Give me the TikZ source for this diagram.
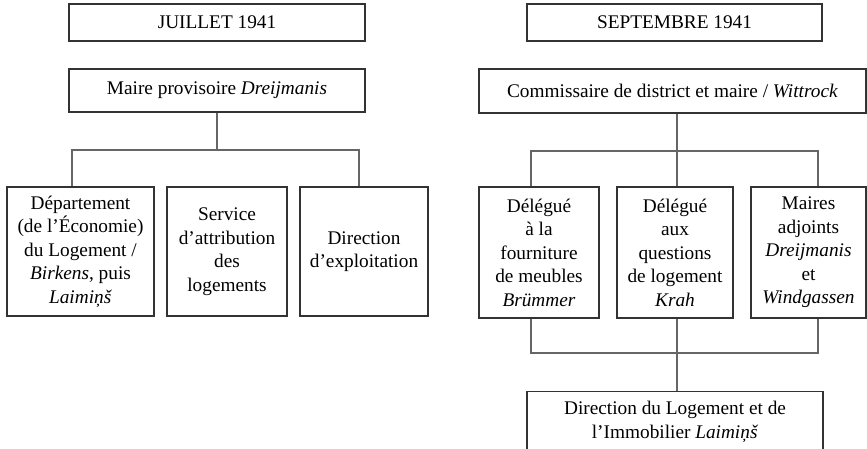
\documentclass[tikz,border=0pt]{standalone}
\usepackage{fontspec}
\setmainfont{Liberation Serif}
\definecolor{boxc}{HTML}{333333}
\definecolor{connc}{HTML}{666666}
\begin{document}
\begin{tikzpicture}[x=1pt,y=-1pt,
  box/.style={draw=boxc, line width=1.1pt, fill=white, align=center, inner sep=0pt,
    font=\fontsize{19.3}{23.5}\selectfont},
  conn/.style={draw=connc, line width=2.8pt, line join=miter}]
\useasboundingbox (0,0) rectangle (867,449);
% coordinates for connector routing
\coordinate (lb1) at (72,150);
\coordinate (lb3) at (359,150);
\coordinate (rb1) at (531,151);
\coordinate (rbm) at (677,151);
\coordinate (rb3) at (818,151);
\coordinate (rc1) at (531,353);
\coordinate (rcm) at (677,353);
\coordinate (rc3) at (818,353);
% nodes
\node[box, minimum width=296pt, minimum height=37pt] (jul) at (217,22.5) {JUILLET 1941};
\node[box, minimum width=296pt, minimum height=43pt] (maire) at (217,90.5) {Maire provisoire \textit{Dreijmanis}};
\node[box, minimum width=147pt, minimum height=129pt] (d1) at (80.5,251.5) {Département\\(de l’Économie)\\du Logement /\\\textit{Birkens}, puis\\\textit{Laimiņš}};
\node[box, minimum width=120pt, minimum height=129pt] (d2) at (227,251.5) {Service\\d’attribution\\des\\logements};
\node[box, minimum width=128pt, minimum height=129pt] (d3) at (364,251.5) {Direction\\d’exploitation};
\node[box, minimum width=295pt, minimum height=37pt] (sep) at (674.5,22.5) {SEPTEMBRE 1941};
\node[box, minimum width=387pt, minimum height=44pt] (comm) at (672.5,91) {Commissaire de district et maire / \textit{Wittrock}};
\node[box, minimum width=120pt, minimum height=131pt] (r1) at (539,252.5) {Délégué\\à la\\fourniture\\de meubles\\\textit{Brümmer}};
\node[box, minimum width=116pt, minimum height=131pt] (r2) at (675,252.5) {Délégué\\aux\\questions\\de logement\\\textit{Krah}};
\node[box, minimum width=115pt, minimum height=131pt] (r3) at (808.5,252.5) {Maires\\adjoints\\\textit{Dreijmanis}\\et\\\textit{Windgassen}};
\node[box, minimum width=296pt, minimum height=64pt, anchor=north] (dir) at (675,391) {};
\node[font=\fontsize{19.3}{23.5}\selectfont, align=center, inner sep=0pt] (dirt) at (675,422) {Direction du Logement et de\\l’Immobilier \textit{Laimiņš}};
% connectors
\draw[conn] (maire.south) -- (maire.south |- lb1);
\draw[conn] (d1.north -| lb1) -- (lb1) -- (lb3) -- (d3.north -| lb3);
\draw[conn] (comm.south -| rbm) -- (r2.north -| rbm);
\draw[conn] (r1.north -| rb1) -- (rb1) -- (rb3) -- (r3.north -| rb3);
\draw[conn] (r1.south -| rc1) -- (rc1) -- (rc3) -- (r3.south -| rc3);
\draw[conn] (r2.south -| rcm) -- (dir.north -| rcm);
\end{tikzpicture}
\end{document}
